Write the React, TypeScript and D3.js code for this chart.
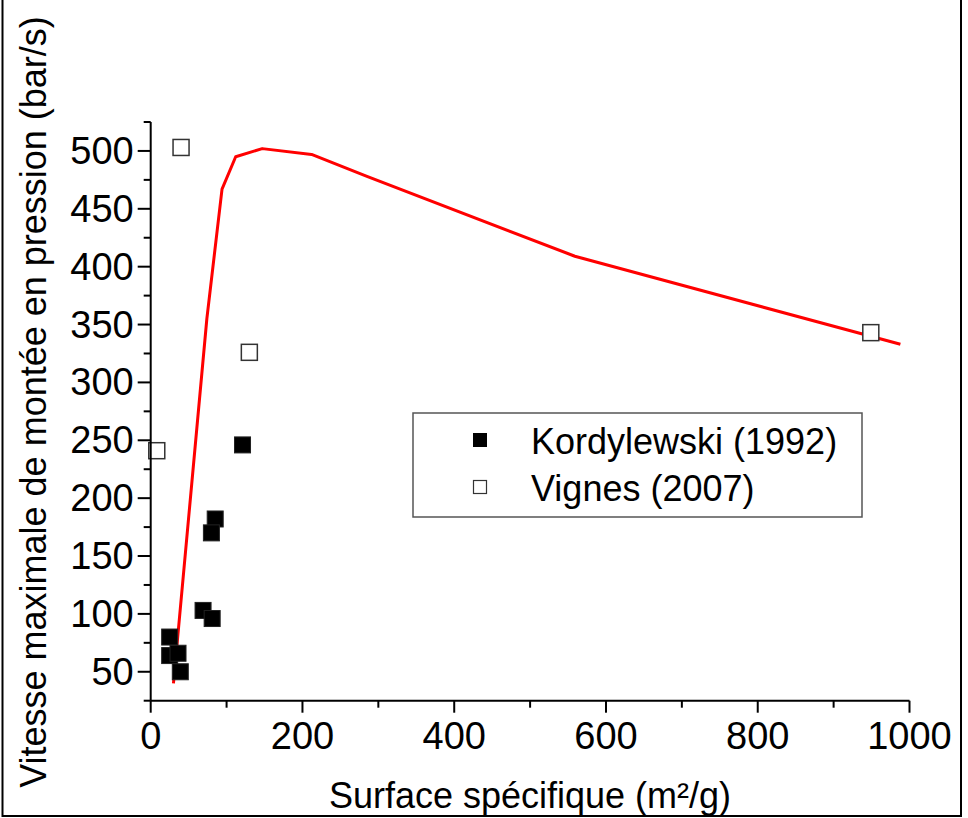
import React from "react";
import * as d3 from "d3";

// Kordylewski (1992) measurements: specific surface (m²/g) vs max rate of pressure rise (bar/s)
const kordX = [121, 85, 80, 69, 81, 25, 25, 36, 39];
const kordY = [246, 182, 170, 103, 96, 80, 64, 66, 50];

// Vignes (2007) measurements
const vignesX = [40, 130, 8, 949];
const vignesY = [503, 326, 241, 343];

// Fitted trend curve
const curveX = [30, 74, 94, 112, 147, 212, 285, 559, 988];
const curveY = [40, 355, 467, 495, 502, 497, 478, 409, 333];

const xMajorTicks = [0, 200, 400, 600, 800, 1000];
const xMinorTicks = [100, 300, 500, 700, 900];
const yMajorTicks = [50, 100, 150, 200, 250, 300, 350, 400, 450, 500];
const yMinorTicks = [25, 75, 125, 175, 225, 275, 325, 375, 425, 475, 525];

const legendLabels = ["Kordylewski (1992)", "Vignes (2007)"];

const W = 968;
const H = 818;
const FONT = "'Liberation Sans', Arial, sans-serif";

export default function App() {
  const x = d3.scaleLinear().domain([0, 1000]).range([150.7, 909.5]);
  const y = d3.scaleLinear().domain([25, 525]).range([700.7, 122]);

  const line = d3
    .line<number>()
    .x((_, i) => x(curveX[i]))
    .y((_, i) => y(curveY[i]));

  const ms = 16;

  return (
    <svg
      width={W}
      height={H}
      style={{ position: "absolute", left: 0, top: 0, background: "#fff" }}
      fontFamily={FONT}
    >
      {/* outer frame */}
      <rect x={2.5} y={-10} width={958.5} height={826} fill="none" stroke="#000" strokeWidth={2} />

      {/* trend curve */}
      <path d={line(curveX) ?? ""} fill="none" stroke="#ff0000" strokeWidth={3} strokeLinejoin="round" />

      {/* Kordylewski points */}
      {kordX.map((v, i) => (
        <rect
          key={"k" + i}
          x={x(v) - ms / 2}
          y={y(kordY[i]) - ms / 2}
          width={ms}
          height={ms}
          fill="#000"
          stroke="#222"
          strokeWidth={1}
        />
      ))}

      {/* Vignes points */}
      {vignesX.map((v, i) => (
        <rect
          key={"v" + i}
          x={x(v) - ms / 2}
          y={y(vignesY[i]) - ms / 2}
          width={ms}
          height={ms}
          fill="#fff"
          stroke="#333"
          strokeWidth={1.5}
        />
      ))}

      {/* axes */}
      <line x1={x(0)} x2={x(1000)} y1={y(25)} y2={y(25)} stroke="#000" strokeWidth={2} />
      <line x1={x(0)} x2={x(0)} y1={y(25)} y2={y(525)} stroke="#000" strokeWidth={2} />

      {xMajorTicks.map((t) => (
        <g key={"xt" + t}>
          <line x1={x(t)} x2={x(t)} y1={y(25)} y2={y(25) + 12} stroke="#000" strokeWidth={2} />
          <text x={x(t)} y={y(25) + 48} textAnchor="middle" fontSize={38} fill="#000">
            {t}
          </text>
        </g>
      ))}
      {xMinorTicks.map((t) => (
        <line key={"xm" + t} x1={x(t)} x2={x(t)} y1={y(25)} y2={y(25) + 7} stroke="#000" strokeWidth={2} />
      ))}

      {yMajorTicks.map((t) => (
        <g key={"yt" + t}>
          <line x1={x(0) - 13} x2={x(0)} y1={y(t)} y2={y(t)} stroke="#000" strokeWidth={2} />
          <text x={x(0) - 17} y={y(t) + 13} textAnchor="end" fontSize={38} fill="#000">
            {t}
          </text>
        </g>
      ))}
      {yMinorTicks.map((t) => (
        <line key={"ym" + t} x1={x(0) - 7} x2={x(0)} y1={y(t)} y2={y(t)} stroke="#000" strokeWidth={2} />
      ))}

      {/* axis titles */}
      <text x={530} y={808} textAnchor="middle" fontSize={36} fill="#000">
        Surface spécifique (m²/g)
      </text>
      <text
        transform={`translate(46, 402) rotate(-90)`}
        textAnchor="middle"
        fontSize={36}
        fill="#000"
      >
        Vitesse maximale de montée en pression (bar/s)
      </text>

      {/* legend */}
      <rect x={413} y={413} width={449} height={104} fill="#fff" stroke="#555" strokeWidth={1.5} />
      <rect x={473} y={433} width={14} height={14} fill="#000" />
      <rect x={473.5} y={480.5} width={13} height={13} fill="#fff" stroke="#333" strokeWidth={1.2} />
      <text x={531} y={454} fontSize={36} fill="#000">
        {legendLabels[0]}
      </text>
      <text x={531} y={501} fontSize={36} fill="#000">
        {legendLabels[1]}
      </text>
    </svg>
  );
}
